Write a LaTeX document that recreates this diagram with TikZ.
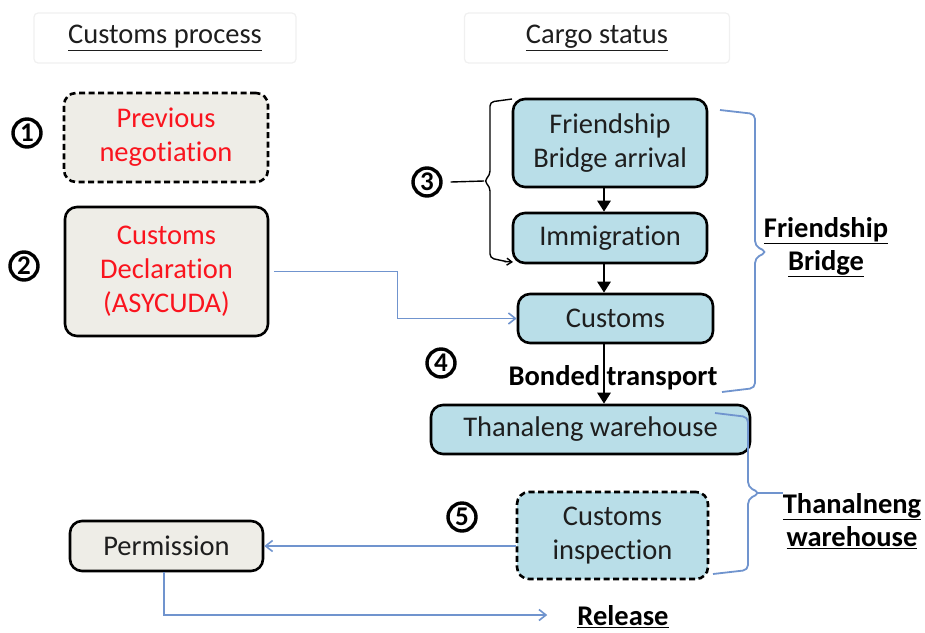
\documentclass[tikz,border=0pt]{standalone}
\usepackage{fontspec}
\setmainfont{Carlito}[Ligatures=NoCommon]
\usetikzlibrary{arrows.meta}
\definecolor{boxblue}{RGB}{185,222,232}
\definecolor{boxbeige}{RGB}{238,237,231}
\definecolor{linkblue}{RGB}{112,148,206}
\definecolor{inkred}{RGB}{250,20,30}
\definecolor{ink}{RGB}{30,30,30}
\tikzset{
  base/.style={rounded corners=12pt, line width=2.6pt, draw=black, align=center,
    inner sep=0pt, text=ink, font=\fontsize{28.5}{34}\selectfont},
  beigebox/.style={base, fill=boxbeige},
  bluebox/.style={base, fill=boxblue},
  dashbox/.style={dash pattern=on 6pt off 3.5pt},
  header/.style={draw=black!6, fill=white, rounded corners=4pt, line width=1.2pt,
    inner sep=0pt, text=ink, font=\fontsize{28.5}{34}\selectfont},
  boldlabel/.style={align=center, inner sep=0pt, text=black,
    font=\bfseries\fontsize{28.5}{33}\selectfont},
  stepnum/.style={circle, draw=black, line width=3.4pt, minimum size=28pt, inner sep=0pt,
    font=\bfseries\fontsize{27}{27}\selectfont},
  flow/.style={line width=2.8pt, -{Triangle[length=11pt,width=13pt]}},
  link/.style={draw=linkblue, line width=1.6pt, -{Straight Barb[length=7pt,width=11pt]}},
  brace/.style={draw=linkblue, line width=1.8pt, rounded corners=5pt},
}
\begin{document}
\begin{tikzpicture}[x=1pt, y=-1pt]
\useasboundingbox (0,0) rectangle (925,632);

% column headers
\node[header, minimum width=262pt, minimum height=50pt] (hcp) at (165,38) {\underline{Customs process}};
\node[header, minimum width=265pt, minimum height=50pt] (hcs) at (597,38) {\underline{Cargo status}};

% step numbers
\node[stepnum] (n1) at (27,133) {1};
\node[stepnum] (n2) at (24,266) {2};
\node[stepnum] (n3) at (427,182) {3};
\node[stepnum] (n4) at (441,363) {4};
\node[stepnum] (n5) at (462,517) {5};

% customs process column
\node[beigebox, dashbox, minimum width=204pt, minimum height=89pt, text=inkred] (prev) at (166,137.5) {Previous\\negotiation};
\node[beigebox, minimum width=203pt, minimum height=129pt, text=inkred] (decl) at (166.5,271.5) {Customs\\Declaration\\(ASYCUDA)};
\node[beigebox, minimum width=193pt, minimum height=50pt] (perm) at (166.5,546) {Permission};

% cargo status column
\node[bluebox, minimum width=194pt, minimum height=88pt] (fba) at (610,143) {Friendship\\Bridge arrival};
\node[bluebox, minimum width=194pt, minimum height=50pt] (imm) at (610,238) {Immigration};
\node[bluebox, minimum width=195pt, minimum height=49pt] (cust) at (615.5,318.5) {Customs};
\node[bluebox, minimum width=319pt, minimum height=49pt] (than) at (590.5,429.5) {Thanaleng warehouse};
\node[bluebox, dashbox, minimum width=191pt, minimum height=87pt] (insp) at (612.5,535.5) {Customs\\inspection};

% side labels
\node[boldlabel] (lfb) at (826,247) {\underline{Friendship}\\\underline{Bridge}};
\node[boldlabel] (ltw) at (852,521) {\underline{Thanalneng}\\\underline{warehouse}};
\node[boldlabel] (rel) at (623,617) {\underline{Release}};

% cargo flow
\coordinate (ax) at (604,0);
\draw[flow] (fba.south -| ax) -- (imm.north -| ax);
\draw[flow] (imm.south -| ax) -- (cust.north -| ax);
\draw[flow] (cust.south -| ax) -- (than.north -| ax);
\node[boldlabel] (bt) at (613,378) {Bonded transport};

% document links
\draw[link, shorten <=5pt] (decl.east) -- ++(128,0) |- (cust.west);
\draw[link] (insp.west |- perm.east) -- (perm.east);
\draw[link, shorten >=30pt] ([xshift=-2.5pt]perm.south) |- ([yshift=2pt]rel.west);

% bracket grouping arrival and immigration
\draw[line width=1.4pt, rounded corners=4pt] (512,99) -- (490,102) -- (490,175) -- (484,181) -- (490,187) -- (490,258) -- (506,261.5);
\draw[line width=1.4pt, -{Straight Barb[length=5pt,width=7pt]}] (504,261.5) -- (513,262);
\draw[line width=1.4pt] (n3.east) ++(8,0) -- (484,181);

% blue braces for the two zones
\draw[brace] (720,110) -- (755,114) -- (755,246) -- (767,252) -- (755,258) -- (755,388) -- (722,392);
\draw[brace] (715,413) -- (748,417) -- (748,487) -- (760,493) -- (748,499) -- (748,570) -- (713,574);
\draw[draw=linkblue, line width=1.8pt] (758,493) -- (ltw.west |- 0,493);
\end{tikzpicture}
\end{document}
